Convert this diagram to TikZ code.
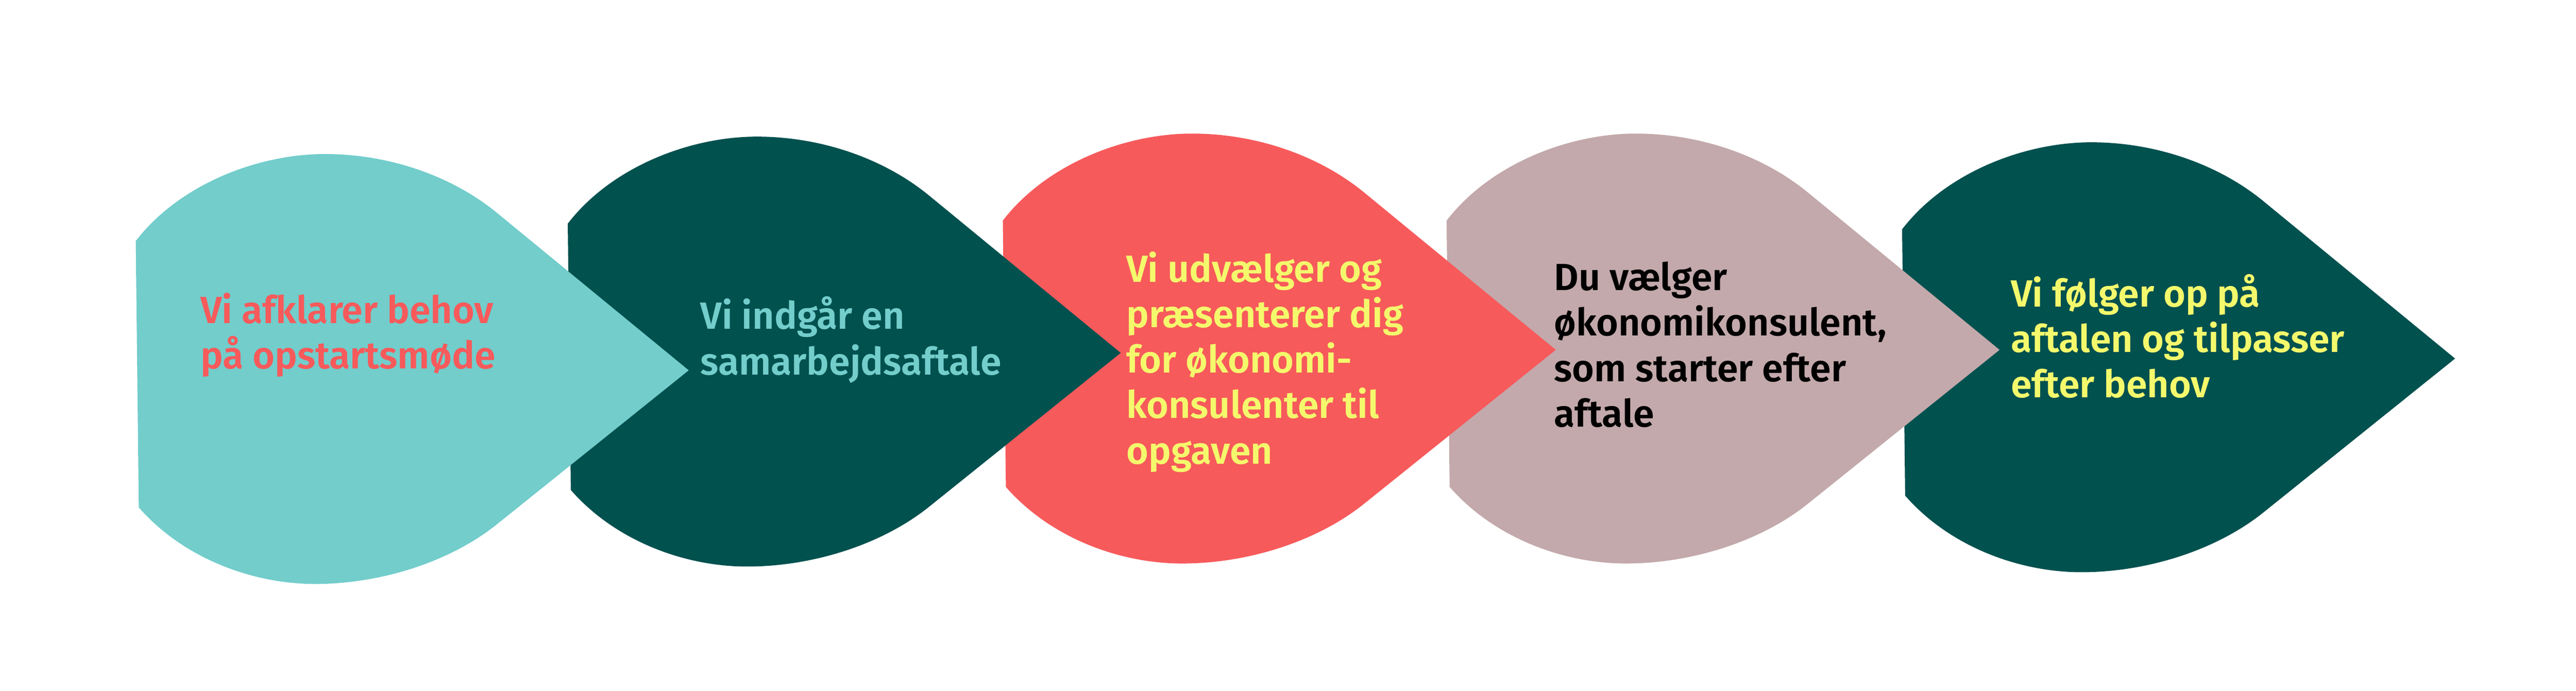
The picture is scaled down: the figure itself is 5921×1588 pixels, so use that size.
\documentclass[tikz,border=0pt]{standalone}
\usepackage{fontspec}
\newfontfamily\lblfam{Fira Sans SemiBold}
\definecolor{cLight}{HTML}{72CDCB}
\definecolor{cDark}{HTML}{01514F}
\definecolor{cCoral}{HTML}{F75A5B}
\definecolor{cMauve}{HTML}{C3A9AB}
\definecolor{cYellow}{HTML}{F4F96C}
\newcommand\leafshape[3]{%
  \fill[#3, shift={(#1,#2)}]
    (0,0) .. controls (100,-130) and (280,-200) .. (435,-200)
    .. controls (580,-200) and (725,-151) .. (830,-65)
    -- (1271,297)
    -- (830,651)
    .. controls (720,739) and (560,788) .. (412,788)
    .. controls (270,788) and (110,730) .. (7,612)
    -- cycle;}
\begin{document}
\begin{tikzpicture}[x=0.2pt,y=-0.2pt,
  lbl/.style={anchor=base west, align=left, inner sep=0pt,
    font=\lblfam\fontsize{17.4pt}{20.9pt}\selectfont}]
\useasboundingbox (0,0) rectangle (5921,1588);
\leafshape{4372}{527}{cDark}
\leafshape{3325}{507}{cMauve}
\leafshape{2305}{507}{cCoral}
\leafshape{1305}{514}{cDark}
\leafshape{312}{554}{cLight}
% anchors are at the baseline of the last line of each text
\node[lbl, text=cCoral] (t1) at (460,847) {Vi afklarer behov\\på opstartsmøde};
\node[lbl, text=cLight] (t2) at (1609,861) {Vi indgår en\\samarbejdsaftale};
\node[lbl, text=cYellow] (t3) at (2588,1066) {Vi udvælger og\\præsenterer dig\\for økonomi-\\konsulenter til\\opgaven};
\node[lbl, text=black] (t4) at (3571,981) {Du vælger\\økonomikonsulent,\\som starter efter\\aftale};
\node[lbl, text=cYellow] (t5) at (4621,914) {Vi følger op på\\aftalen og tilpasser\\efter behov};
\end{tikzpicture}
\end{document}
